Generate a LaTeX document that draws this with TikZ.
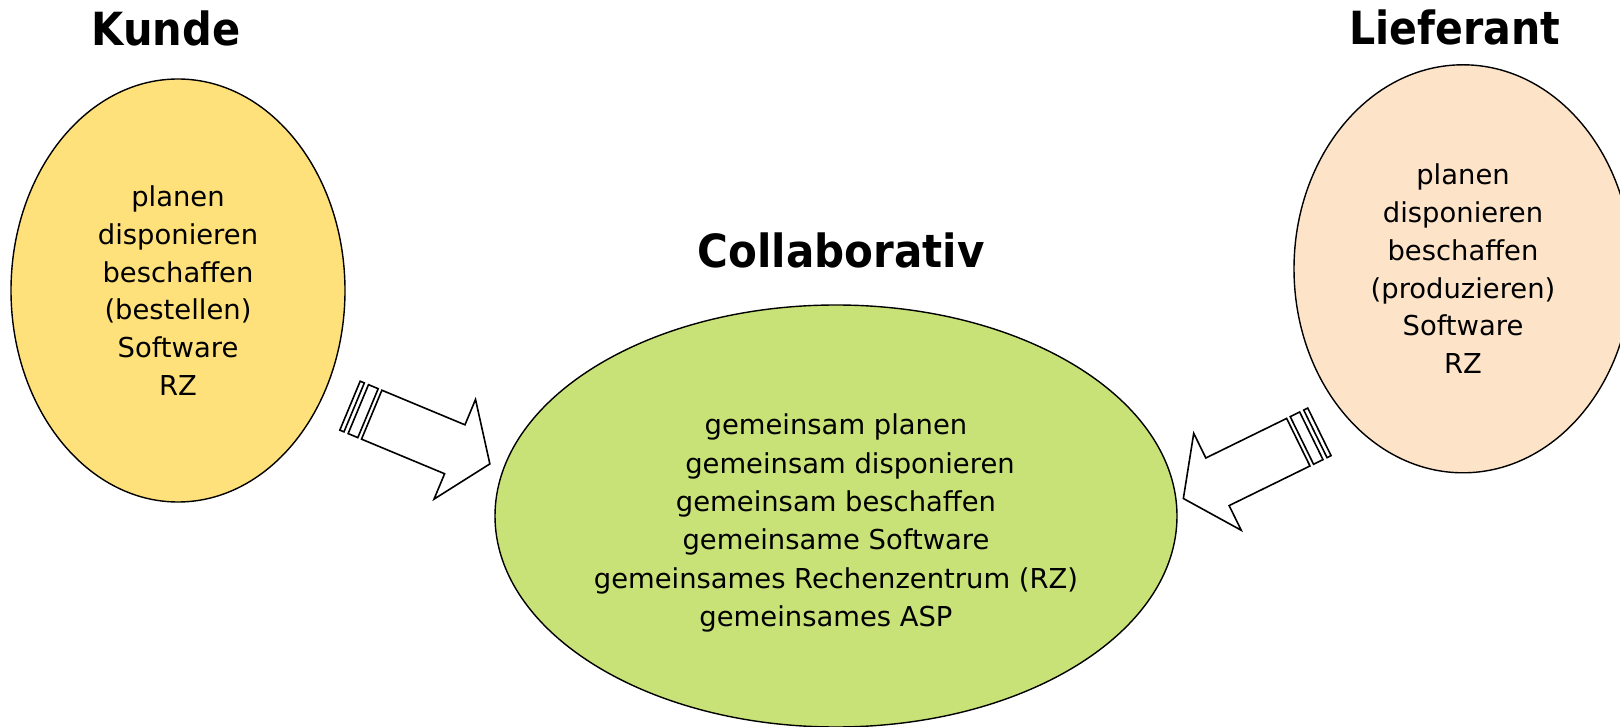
\documentclass[tikz,border=0pt]{standalone}
\usepackage{fontspec}
\setmainfont{DejaVu Sans}
\usetikzlibrary{shapes.geometric}
\definecolor{gelb}{HTML}{FFE17B}
\definecolor{pfirsich}{HTML}{FDE4C9}
\definecolor{gruen}{HTML}{C8E277}
\tikzset{
  blob/.style={ellipse, draw, line width=1.4pt},
  inhalt/.style={align=center, font=\fontsize{27.4}{37.7}\selectfont},
  titel/.style={anchor=base, font=\bfseries\fontsize{45.7}{50}\selectfont},
  streifenpfeil/.pic={
    \draw[line width=1.6pt, fill=white] (0,-26.5) -- (90,-26.5) -- (90,-54) -- (128,0) -- (90,54) -- (90,26.5) -- (0,26.5) -- cycle;
    \draw[line width=1.6pt, fill=white] (-14.5,-26.5) rectangle (-4,26.5);
    \draw[line width=1.6pt, fill=white] (-23.5,-26.5) rectangle (-19,26.5);
  }
}
\begin{document}
\begin{tikzpicture}[x=1pt, y=1pt]
\useasboundingbox (0,0) rectangle (1620,726);
\node[blob, fill=gelb, minimum width=334pt, minimum height=423pt] (kunde) at (178,435.5) {};
\node[blob, fill=pfirsich, minimum width=338pt, minimum height=408pt] (lieferant) at (1463,457.2) {};
\node[blob, fill=gruen, minimum width=682pt, minimum height=422pt] (collab) at (836,210) {};
\node[titel] (kundetitel) at (166,680) {\scalebox{0.91}[1]{Kunde}};
\node[titel] (liefertitel) at (1455,681) {\scalebox{0.9}[1]{Lieferant}};
\node[titel] (collabtitel) at (841,458) {\scalebox{0.92}[1]{Collaborativ}};
\node[inhalt] (kundetext) at (kunde.center) {planen\\disponieren\\beschaffen\\(bestellen)\\Software\\RZ};
\node[inhalt] (liefertext) at (lieferant.center) {planen\\disponieren\\beschaffen\hspace*{10pt}\\(produzieren)\\Software\\RZ};
\node[inhalt, font=\fontsize{27.4}{38.3}\selectfont, yshift=-7pt] (collabtext) at (collab.center)
  {gemeinsam planen\\\hspace*{28pt}gemeinsam disponieren\\gemeinsam beschaffen\\gemeinsame Software\\gemeinsames Rechenzentrum (RZ)\\gemeinsames ASP\hspace*{20pt}};
\pic[rotate=-22.6] at (371.7,311.3) {streifenpfeil};
\pic[rotate=206.1] at (1298.3,283.8) {streifenpfeil};
\end{tikzpicture}
\end{document}
